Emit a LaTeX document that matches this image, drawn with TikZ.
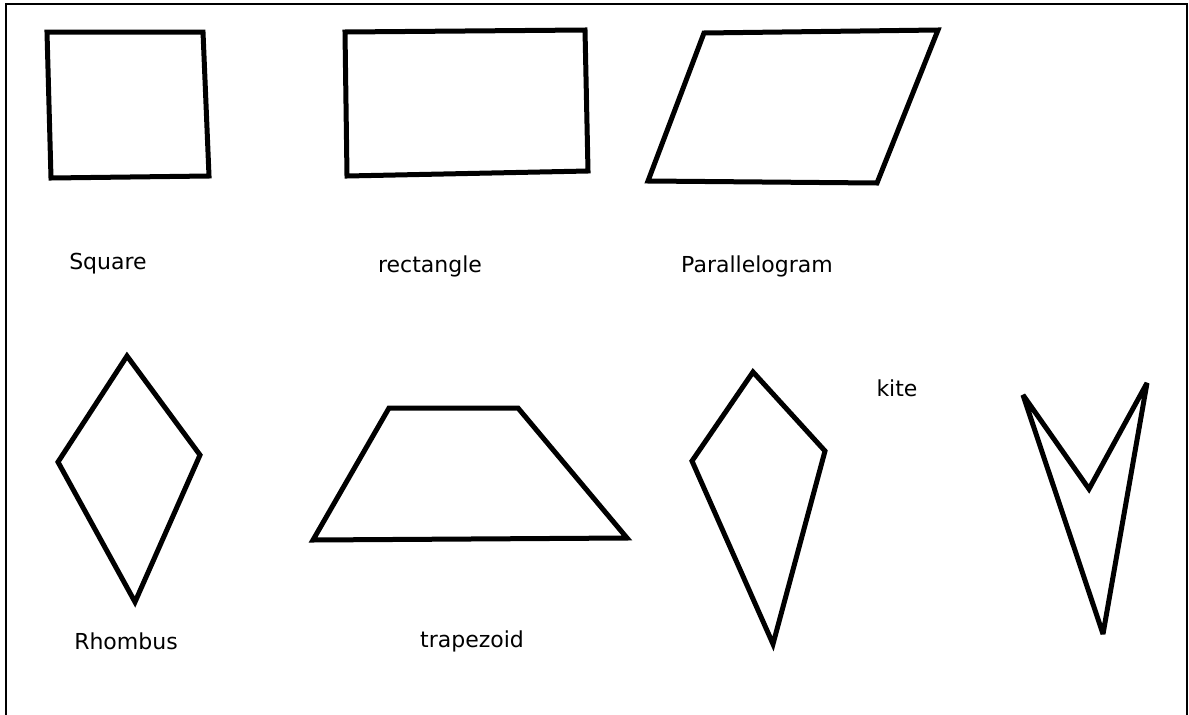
\documentclass[tikz,border=0pt]{standalone}
\usepackage{fontspec}
\setmainfont{DejaVu Sans}
\usepackage{tikz}
\usetikzlibrary{positioning}

\tikzset{
    shapeline/.style={line width=5pt,line join=miter,miter limit=3},
    shapelabel/.style={font=\fontsize{22}{26}\selectfont}
}

\begin{document}
\begin{tikzpicture}[x=1pt,y=-1pt]
    \useasboundingbox (0,0) rectangle (1189,715);
    \draw[line width=2.5pt] (6,716) -- (6,4) -- (1187,4) -- (1187,716);
    % top row
    \draw[shapeline] (47,32) -- (203,32) -- (209,176) -- (51,178) -- cycle;
    \draw[shapeline] (345,32) -- (585,30) -- (588,171) -- (347,176) -- cycle;
    \draw[shapeline] (704,33) -- (938,30) -- (877,183) -- (648,181) -- cycle;
    \node[shapelabel] (square) at (108,264) {Square};
    \node[shapelabel] (rectangle) at (430,266) {rectangle};
    \node[shapelabel] (parallelogram) at (757,266) {Parallelogram};
    % bottom row
    \draw[shapeline] (127,356) -- (200,455) -- (135,602) -- (58,462) -- cycle;
    \draw[shapeline] (389,408) -- (518,408) -- (627,538) -- (313,540) -- cycle;
    \draw[shapeline] (753,372) -- (825,451) -- (773,644) -- (692,461) -- cycle;
    \draw[shapeline] (1023,395) -- (1089,489) -- (1147,383) -- (1103,634) -- cycle;
    \node[shapelabel] (rhombus) at (126,641) {Rhombus};
    \node[shapelabel] (trapezoid) at (472,641) {trapezoid};
    \node[shapelabel] (kite) at (897,388) {kite};
\end{tikzpicture}
\end{document}
